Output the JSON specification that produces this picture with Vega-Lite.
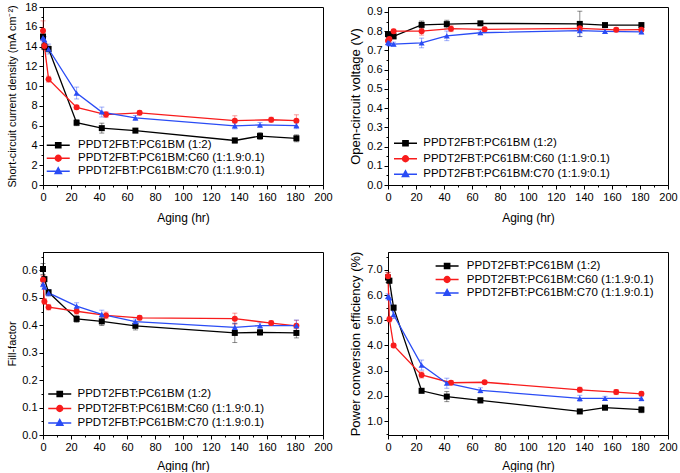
{
  "$schema": "https://vega.github.io/schema/vega-lite/v6.json",
  "padding": {"left": 5, "top": 0, "right": 0, "bottom": 0},
  "config": {
    "font": "Liberation Sans",
    "view": {"stroke": "#000000", "strokeWidth": 1},
    "axis": {"domainColor": "#000000", "tickColor": "#000000", "labelColor": "#000000", "titleColor": "#000000", "labelFont": "Liberation Sans", "titleFont": "Liberation Sans", "labelFontSize": 11, "titleFontSize": 12, "titleFontWeight": "normal", "grid": false, "labelPadding": 2, "labelOverlap": false, "labelFlush": false},
    "axisY": {"minExtent": 22, "maxExtent": 22, "titlePadding": 4},
    "axisX": {"titlePadding": 10},
    "legend": {"labelFont": "Liberation Sans", "labelColor": "#000000", "labelLimit": 400, "symbolSize": 16, "labelFontSize": 11.5, "symbolStrokeWidth": 1.5, "padding": 0, "direction": "vertical", "orient": "none"}
  },
  "datasets": {
    "labs": [{"p": "a", "lab": "a)"}, {"p": "b", "lab": "b)"}, {"p": "c", "lab": "c)"}, {"p": "d", "lab": "d)"}],
    "d": [
      {"p":"a","s":"PPDT2FBT:PC61BM (1:2)","t":0,"v":15.0,"e":0.3},
      {"p":"a","s":"PPDT2FBT:PC61BM (1:2)","t":1,"v":14.0,"e":0.3},
      {"p":"a","s":"PPDT2FBT:PC61BM (1:2)","t":4,"v":13.75,"e":0.3},
      {"p":"a","s":"PPDT2FBT:PC61BM (1:2)","t":24,"v":6.3,"e":0.3},
      {"p":"a","s":"PPDT2FBT:PC61BM (1:2)","t":42,"v":5.75,"e":0.5},
      {"p":"a","s":"PPDT2FBT:PC61BM (1:2)","t":66,"v":5.5,"e":0.2},
      {"p":"a","s":"PPDT2FBT:PC61BM (1:2)","t":137,"v":4.5,"e":0.25},
      {"p":"a","s":"PPDT2FBT:PC61BM (1:2)","t":155,"v":4.95,"e":0.35},
      {"p":"a","s":"PPDT2FBT:PC61BM (1:2)","t":181,"v":4.72,"e":0.35},
      {"p":"a","s":"PPDT2FBT:PC61BM:C60 (1:1.9:0.1)","t":0,"v":15.6,"e":1.0},
      {"p":"a","s":"PPDT2FBT:PC61BM:C60 (1:1.9:0.1)","t":1,"v":14.05,"e":0.4},
      {"p":"a","s":"PPDT2FBT:PC61BM:C60 (1:1.9:0.1)","t":4,"v":10.7,"e":0.3},
      {"p":"a","s":"PPDT2FBT:PC61BM:C60 (1:1.9:0.1)","t":24,"v":7.85,"e":0.2},
      {"p":"a","s":"PPDT2FBT:PC61BM:C60 (1:1.9:0.1)","t":45,"v":7.12,"e":0.3},
      {"p":"a","s":"PPDT2FBT:PC61BM:C60 (1:1.9:0.1)","t":69,"v":7.3,"e":0.2},
      {"p":"a","s":"PPDT2FBT:PC61BM:C60 (1:1.9:0.1)","t":137,"v":6.5,"e":0.5},
      {"p":"a","s":"PPDT2FBT:PC61BM:C60 (1:1.9:0.1)","t":163,"v":6.6,"e":0.25},
      {"p":"a","s":"PPDT2FBT:PC61BM:C60 (1:1.9:0.1)","t":181,"v":6.5,"e":0.6},
      {"p":"a","s":"PPDT2FBT:PC61BM:C70 (1:1.9:0.1)","t":0,"v":14.9,"e":0.3},
      {"p":"a","s":"PPDT2FBT:PC61BM:C70 (1:1.9:0.1)","t":1,"v":14.7,"e":0.3},
      {"p":"a","s":"PPDT2FBT:PC61BM:C70 (1:1.9:0.1)","t":4,"v":13.75,"e":0.5},
      {"p":"a","s":"PPDT2FBT:PC61BM:C70 (1:1.9:0.1)","t":24,"v":9.3,"e":0.6},
      {"p":"a","s":"PPDT2FBT:PC61BM:C70 (1:1.9:0.1)","t":42,"v":7.38,"e":0.5},
      {"p":"a","s":"PPDT2FBT:PC61BM:C70 (1:1.9:0.1)","t":66,"v":6.78,"e":0.25},
      {"p":"a","s":"PPDT2FBT:PC61BM:C70 (1:1.9:0.1)","t":137,"v":5.98,"e":0.3},
      {"p":"a","s":"PPDT2FBT:PC61BM:C70 (1:1.9:0.1)","t":155,"v":6.07,"e":0.25},
      {"p":"a","s":"PPDT2FBT:PC61BM:C70 (1:1.9:0.1)","t":181,"v":6.0,"e":0.3},

      {"p":"b","s":"PPDT2FBT:PC61BM (1:2)","t":0,"v":0.785,"e":0.01},
      {"p":"b","s":"PPDT2FBT:PC61BM (1:2)","t":1,"v":0.78,"e":0.01},
      {"p":"b","s":"PPDT2FBT:PC61BM (1:2)","t":4,"v":0.773,"e":0.01},
      {"p":"b","s":"PPDT2FBT:PC61BM (1:2)","t":24,"v":0.833,"e":0.02},
      {"p":"b","s":"PPDT2FBT:PC61BM (1:2)","t":42,"v":0.837,"e":0.02},
      {"p":"b","s":"PPDT2FBT:PC61BM (1:2)","t":66,"v":0.841,"e":0.01},
      {"p":"b","s":"PPDT2FBT:PC61BM (1:2)","t":137,"v":0.838,"e":0.066},
      {"p":"b","s":"PPDT2FBT:PC61BM (1:2)","t":155,"v":0.832,"e":0.01},
      {"p":"b","s":"PPDT2FBT:PC61BM (1:2)","t":181,"v":0.832,"e":0.01},
      {"p":"b","s":"PPDT2FBT:PC61BM:C60 (1:1.9:0.1)","t":0,"v":0.75,"e":0.02},
      {"p":"b","s":"PPDT2FBT:PC61BM:C60 (1:1.9:0.1)","t":1,"v":0.76,"e":0.02},
      {"p":"b","s":"PPDT2FBT:PC61BM:C60 (1:1.9:0.1)","t":4,"v":0.8,"e":0.01},
      {"p":"b","s":"PPDT2FBT:PC61BM:C60 (1:1.9:0.1)","t":24,"v":0.8,"e":0.02},
      {"p":"b","s":"PPDT2FBT:PC61BM:C60 (1:1.9:0.1)","t":45,"v":0.813,"e":0.015},
      {"p":"b","s":"PPDT2FBT:PC61BM:C60 (1:1.9:0.1)","t":69,"v":0.81,"e":0.01},
      {"p":"b","s":"PPDT2FBT:PC61BM:C60 (1:1.9:0.1)","t":137,"v":0.815,"e":0.01},
      {"p":"b","s":"PPDT2FBT:PC61BM:C60 (1:1.9:0.1)","t":163,"v":0.807,"e":0.01},
      {"p":"b","s":"PPDT2FBT:PC61BM:C60 (1:1.9:0.1)","t":181,"v":0.808,"e":0.01},
      {"p":"b","s":"PPDT2FBT:PC61BM:C70 (1:1.9:0.1)","t":0,"v":0.742,"e":0.015},
      {"p":"b","s":"PPDT2FBT:PC61BM:C70 (1:1.9:0.1)","t":1,"v":0.737,"e":0.015},
      {"p":"b","s":"PPDT2FBT:PC61BM:C70 (1:1.9:0.1)","t":4,"v":0.733,"e":0.01},
      {"p":"b","s":"PPDT2FBT:PC61BM:C70 (1:1.9:0.1)","t":24,"v":0.739,"e":0.025},
      {"p":"b","s":"PPDT2FBT:PC61BM:C70 (1:1.9:0.1)","t":42,"v":0.776,"e":0.025},
      {"p":"b","s":"PPDT2FBT:PC61BM:C70 (1:1.9:0.1)","t":66,"v":0.792,"e":0.01},
      {"p":"b","s":"PPDT2FBT:PC61BM:C70 (1:1.9:0.1)","t":137,"v":0.803,"e":0.03},
      {"p":"b","s":"PPDT2FBT:PC61BM:C70 (1:1.9:0.1)","t":155,"v":0.799,"e":0.01},
      {"p":"b","s":"PPDT2FBT:PC61BM:C70 (1:1.9:0.1)","t":181,"v":0.797,"e":0.01},

      {"p":"c","s":"PPDT2FBT:PC61BM (1:2)","t":0,"v":0.605,"e":0.02},
      {"p":"c","s":"PPDT2FBT:PC61BM (1:2)","t":1,"v":0.568,"e":0.01},
      {"p":"c","s":"PPDT2FBT:PC61BM (1:2)","t":4,"v":0.52,"e":0.01},
      {"p":"c","s":"PPDT2FBT:PC61BM (1:2)","t":24,"v":0.423,"e":0.012},
      {"p":"c","s":"PPDT2FBT:PC61BM (1:2)","t":42,"v":0.414,"e":0.015},
      {"p":"c","s":"PPDT2FBT:PC61BM (1:2)","t":66,"v":0.398,"e":0.015},
      {"p":"c","s":"PPDT2FBT:PC61BM (1:2)","t":137,"v":0.372,"e":0.035},
      {"p":"c","s":"PPDT2FBT:PC61BM (1:2)","t":155,"v":0.374,"e":0.01},
      {"p":"c","s":"PPDT2FBT:PC61BM (1:2)","t":181,"v":0.372,"e":0.018},
      {"p":"c","s":"PPDT2FBT:PC61BM:C60 (1:1.9:0.1)","t":0,"v":0.566,"e":0.015},
      {"p":"c","s":"PPDT2FBT:PC61BM:C60 (1:1.9:0.1)","t":1,"v":0.487,"e":0.01},
      {"p":"c","s":"PPDT2FBT:PC61BM:C60 (1:1.9:0.1)","t":4,"v":0.466,"e":0.01},
      {"p":"c","s":"PPDT2FBT:PC61BM:C60 (1:1.9:0.1)","t":24,"v":0.451,"e":0.01},
      {"p":"c","s":"PPDT2FBT:PC61BM:C60 (1:1.9:0.1)","t":45,"v":0.436,"e":0.012},
      {"p":"c","s":"PPDT2FBT:PC61BM:C60 (1:1.9:0.1)","t":69,"v":0.427,"e":0.008},
      {"p":"c","s":"PPDT2FBT:PC61BM:C60 (1:1.9:0.1)","t":137,"v":0.424,"e":0.02},
      {"p":"c","s":"PPDT2FBT:PC61BM:C60 (1:1.9:0.1)","t":163,"v":0.408,"e":0.008},
      {"p":"c","s":"PPDT2FBT:PC61BM:C60 (1:1.9:0.1)","t":181,"v":0.398,"e":0.02},
      {"p":"c","s":"PPDT2FBT:PC61BM:C70 (1:1.9:0.1)","t":0,"v":0.55,"e":0.01},
      {"p":"c","s":"PPDT2FBT:PC61BM:C70 (1:1.9:0.1)","t":1,"v":0.54,"e":0.01},
      {"p":"c","s":"PPDT2FBT:PC61BM:C70 (1:1.9:0.1)","t":4,"v":0.518,"e":0.012},
      {"p":"c","s":"PPDT2FBT:PC61BM:C70 (1:1.9:0.1)","t":24,"v":0.47,"e":0.012},
      {"p":"c","s":"PPDT2FBT:PC61BM:C70 (1:1.9:0.1)","t":42,"v":0.44,"e":0.015},
      {"p":"c","s":"PPDT2FBT:PC61BM:C70 (1:1.9:0.1)","t":66,"v":0.413,"e":0.01},
      {"p":"c","s":"PPDT2FBT:PC61BM:C70 (1:1.9:0.1)","t":137,"v":0.392,"e":0.015},
      {"p":"c","s":"PPDT2FBT:PC61BM:C70 (1:1.9:0.1)","t":155,"v":0.399,"e":0.01},
      {"p":"c","s":"PPDT2FBT:PC61BM:C70 (1:1.9:0.1)","t":181,"v":0.399,"e":0.02},

      {"p":"d","s":"PPDT2FBT:PC61BM (1:2)","t":0,"v":6.7,"e":0.2},
      {"p":"d","s":"PPDT2FBT:PC61BM (1:2)","t":1,"v":6.57,"e":0.1},
      {"p":"d","s":"PPDT2FBT:PC61BM (1:2)","t":4,"v":5.5,"e":0.1},
      {"p":"d","s":"PPDT2FBT:PC61BM (1:2)","t":24,"v":2.2,"e":0.08},
      {"p":"d","s":"PPDT2FBT:PC61BM (1:2)","t":42,"v":1.97,"e":0.2},
      {"p":"d","s":"PPDT2FBT:PC61BM (1:2)","t":66,"v":1.82,"e":0.1},
      {"p":"d","s":"PPDT2FBT:PC61BM (1:2)","t":137,"v":1.38,"e":0.06},
      {"p":"d","s":"PPDT2FBT:PC61BM (1:2)","t":155,"v":1.53,"e":0.08},
      {"p":"d","s":"PPDT2FBT:PC61BM (1:2)","t":181,"v":1.45,"e":0.12},
      {"p":"d","s":"PPDT2FBT:PC61BM:C60 (1:1.9:0.1)","t":0,"v":6.75,"e":0.15},
      {"p":"d","s":"PPDT2FBT:PC61BM:C60 (1:1.9:0.1)","t":1,"v":5.04,"e":0.1},
      {"p":"d","s":"PPDT2FBT:PC61BM:C60 (1:1.9:0.1)","t":4,"v":4.0,"e":0.08},
      {"p":"d","s":"PPDT2FBT:PC61BM:C60 (1:1.9:0.1)","t":24,"v":2.83,"e":0.12},
      {"p":"d","s":"PPDT2FBT:PC61BM:C60 (1:1.9:0.1)","t":45,"v":2.52,"e":0.08},
      {"p":"d","s":"PPDT2FBT:PC61BM:C60 (1:1.9:0.1)","t":69,"v":2.54,"e":0.06},
      {"p":"d","s":"PPDT2FBT:PC61BM:C60 (1:1.9:0.1)","t":137,"v":2.24,"e":0.1},
      {"p":"d","s":"PPDT2FBT:PC61BM:C60 (1:1.9:0.1)","t":163,"v":2.15,"e":0.1},
      {"p":"d","s":"PPDT2FBT:PC61BM:C60 (1:1.9:0.1)","t":181,"v":2.08,"e":0.08},
      {"p":"d","s":"PPDT2FBT:PC61BM:C70 (1:1.9:0.1)","t":0,"v":5.95,"e":0.1},
      {"p":"d","s":"PPDT2FBT:PC61BM:C70 (1:1.9:0.1)","t":1,"v":5.9,"e":0.1},
      {"p":"d","s":"PPDT2FBT:PC61BM:C70 (1:1.9:0.1)","t":4,"v":5.22,"e":0.15},
      {"p":"d","s":"PPDT2FBT:PC61BM:C70 (1:1.9:0.1)","t":24,"v":3.22,"e":0.2},
      {"p":"d","s":"PPDT2FBT:PC61BM:C70 (1:1.9:0.1)","t":42,"v":2.5,"e":0.2},
      {"p":"d","s":"PPDT2FBT:PC61BM:C70 (1:1.9:0.1)","t":66,"v":2.22,"e":0.1},
      {"p":"d","s":"PPDT2FBT:PC61BM:C70 (1:1.9:0.1)","t":137,"v":1.9,"e":0.12},
      {"p":"d","s":"PPDT2FBT:PC61BM:C70 (1:1.9:0.1)","t":155,"v":1.9,"e":0.08},
      {"p":"d","s":"PPDT2FBT:PC61BM:C70 (1:1.9:0.1)","t":181,"v":1.9,"e":0.1}
    ]
  },
  "spacing": 26,
  "resolve": {"scale": {"color": "independent", "shape": "independent"}, "legend": {"color": "independent", "shape": "independent"}},
  "vconcat": [
    {
      "spacing": 15,
      "resolve": {"scale": {"color": "independent", "shape": "independent"}, "legend": {"color": "independent", "shape": "independent"}},
      "hconcat": [
        {
          "width": 280, "height": 178,
          "resolve": {"scale": {"color": "independent", "shape": "independent"}, "legend": {"color": "independent", "shape": "independent"}},
          "encoding": {
            "x": {"field": "t", "type": "quantitative", "scale": {"domain": [0, 200], "nice": false, "zero": false},
              "axis": {"title": "Aging (hr)", "values": [0,10,20,30,40,50,60,70,80,90,100,110,120,130,140,150,160,170,180,190,200], "labelExpr": "datum.value % 20 == 0 ? datum.label : ''", "tickSize": {"condition": {"test": "datum.value % 20 != 0", "value": 2}, "value": 4}}},
            "y": {"field": "v", "type": "quantitative", "scale": {"domain": [0, 18], "nice": false, "zero": false},
              "axis": {"title": "Short-circuit current density (mA cm⁻²)", "titleFontSize": 10.8, "values": [0,1,2,3,4,5,6,7,8,9,10,11,12,13,14,15,16,17,18], "labelExpr": "datum.value % 2 == 0 ? datum.label : ''", "tickSize": {"condition": {"test": "datum.value % 2 != 0", "value": 2}, "value": 4}}}
          },
          "layer": [
            {"data": {"name": "labs"}, "transform": [{"filter": "datum.p == 'a'"}], "mark": {"type": "text", "fontSize": 15, "fontWeight": "bold", "font": "Liberation Sans", "color": "#000000"},
              "encoding": {"x": {"datum": 188, "type": "quantitative"}, "y": {"datum": 1.5, "type": "quantitative"}, "text": {"field": "lab", "type": "nominal"}}},
            {"data": {"name": "d"}, "transform": [{"filter": "datum.p == 'a'"}], "mark": {"type": "errorbar", "ticks": {"size": 5}, "opacity": 0.45, "thickness": 1}, "encoding": {"yError": {"field": "e"}, "color": {"field": "s", "type": "nominal", "scale": {"domain": ["PPDT2FBT:PC61BM (1:2)", "PPDT2FBT:PC61BM:C60 (1:1.9:0.1)", "PPDT2FBT:PC61BM:C70 (1:1.9:0.1)"], "range": ["#000000", "#f81c1c", "#2a4cf5"]}, "legend": null}}},
            {"data": {"name": "d"}, "transform": [{"filter": "datum.p == 'a'"}], "mark": {"type": "line", "strokeWidth": 1.3}, "encoding": {"color": {"field": "s", "type": "nominal",
              "scale": {"domain": ["PPDT2FBT:PC61BM (1:2)", "PPDT2FBT:PC61BM:C60 (1:1.9:0.1)", "PPDT2FBT:PC61BM:C70 (1:1.9:0.1)"], "range": ["#000000", "#f81c1c", "#2a4cf5"]},
              "legend": {"title": null, "legendX": 9.5, "legendY": 132.5, "rowPadding": 0, "labelOffset": 14,
                "encode": {"symbols": {"update": {
                  "size": {"value": 16},
                  "shape": {"signal": "indexof(datum.value,'C60')>=0 ? 'M-5.75,0H5.75M1.45,0A1.45,1.45,0,1,1,-1.45,0A1.45,1.45,0,1,1,1.45,0Z' : indexof(datum.value,'C70')>=0 ? 'M-5.75,0H5.75M0,-1.7L1.55,1.1H-1.55Z' : 'M-5.75,0H5.75M-1.3,-1.3H1.3V1.3H-1.3Z'"},
                  "fill": {"signal": "indexof(datum.value,'C60')>=0 ? '#f81c1c' : indexof(datum.value,'C70')>=0 ? '#2a4cf5' : '#000000'"},
                  "stroke": {"signal": "indexof(datum.value,'C60')>=0 ? '#f81c1c' : indexof(datum.value,'C70')>=0 ? '#2a4cf5' : '#000000'"},
                  "opacity": {"value": 1}}}}}}}},
            {"data": {"name": "d"}, "transform": [{"filter": "datum.p == 'a'"}], "mark": {"type": "point", "filled": true, "size": 36, "opacity": 1}, "encoding": {"color": {"field": "s", "type": "nominal", "scale": {"domain": ["PPDT2FBT:PC61BM (1:2)", "PPDT2FBT:PC61BM:C60 (1:1.9:0.1)", "PPDT2FBT:PC61BM:C70 (1:1.9:0.1)"], "range": ["#000000", "#f81c1c", "#2a4cf5"]}, "legend": null},
              "shape": {"field": "s", "type": "nominal", "scale": {"domain": ["PPDT2FBT:PC61BM (1:2)", "PPDT2FBT:PC61BM:C60 (1:1.9:0.1)", "PPDT2FBT:PC61BM:C70 (1:1.9:0.1)"], "range": ["square", "circle", "triangle-up"]}, "legend": null}}}
          ]
        },
        {
          "width": 280, "height": 178,
          "resolve": {"scale": {"color": "independent", "shape": "independent"}, "legend": {"color": "independent", "shape": "independent"}},
          "encoding": {
            "x": {"field": "t", "type": "quantitative", "scale": {"domain": [0, 200], "nice": false, "zero": false},
              "axis": {"title": "Aging (hr)", "values": [0,10,20,30,40,50,60,70,80,90,100,110,120,130,140,150,160,170,180,190,200], "labelExpr": "datum.value % 20 == 0 ? datum.label : ''", "tickSize": {"condition": {"test": "datum.value % 20 != 0", "value": 2}, "value": 4}}},
            "y": {"field": "v", "type": "quantitative", "scale": {"domain": [0, 0.926], "nice": false, "zero": false},
              "axis": {"title": "Open-circuit voltage (V)", "titleFontSize": 13, "values": [0,0.05,0.1,0.15,0.2,0.25,0.3,0.35,0.4,0.45,0.5,0.55,0.6,0.65,0.7,0.75,0.8,0.85,0.9], "labelExpr": "abs(datum.value*10 - round(datum.value*10)) < 0.001 ? format(datum.value, '.1f') : ''", "tickSize": {"condition": {"test": "abs(datum.value*10 - round(datum.value*10)) > 0.001", "value": 2}, "value": 4}}}
          },
          "layer": [
            {"data": {"name": "labs"}, "transform": [{"filter": "datum.p == 'b'"}], "mark": {"type": "text", "fontSize": 15, "fontWeight": "bold", "font": "Liberation Sans", "color": "#000000"},
              "encoding": {"x": {"datum": 190, "type": "quantitative"}, "y": {"datum": 0.036, "type": "quantitative"}, "text": {"field": "lab", "type": "nominal"}}},
            {"data": {"name": "d"}, "transform": [{"filter": "datum.p == 'b'"}], "mark": {"type": "errorbar", "ticks": {"size": 5}, "opacity": 0.45, "thickness": 1}, "encoding": {"yError": {"field": "e"}, "color": {"field": "s", "type": "nominal", "scale": {"domain": ["PPDT2FBT:PC61BM (1:2)", "PPDT2FBT:PC61BM:C60 (1:1.9:0.1)", "PPDT2FBT:PC61BM:C70 (1:1.9:0.1)"], "range": ["#000000", "#f81c1c", "#2a4cf5"]}, "legend": null}}},
            {"data": {"name": "d"}, "transform": [{"filter": "datum.p == 'b'"}], "mark": {"type": "line", "strokeWidth": 1.3}, "encoding": {"color": {"field": "s", "type": "nominal",
              "scale": {"domain": ["PPDT2FBT:PC61BM (1:2)", "PPDT2FBT:PC61BM:C60 (1:1.9:0.1)", "PPDT2FBT:PC61BM:C70 (1:1.9:0.1)"], "range": ["#000000", "#f81c1c", "#2a4cf5"]},
              "legend": {"title": null, "legendX": 11.75, "legendY": 130.5, "rowPadding": 2.5, "labelOffset": 12,
                "encode": {"symbols": {"update": {
                  "size": {"value": 16},
                  "shape": {"signal": "indexof(datum.value,'C60')>=0 ? 'M-5.75,0H5.75M1.45,0A1.45,1.45,0,1,1,-1.45,0A1.45,1.45,0,1,1,1.45,0Z' : indexof(datum.value,'C70')>=0 ? 'M-5.75,0H5.75M0,-1.7L1.55,1.1H-1.55Z' : 'M-5.75,0H5.75M-1.3,-1.3H1.3V1.3H-1.3Z'"},
                  "fill": {"signal": "indexof(datum.value,'C60')>=0 ? '#f81c1c' : indexof(datum.value,'C70')>=0 ? '#2a4cf5' : '#000000'"},
                  "stroke": {"signal": "indexof(datum.value,'C60')>=0 ? '#f81c1c' : indexof(datum.value,'C70')>=0 ? '#2a4cf5' : '#000000'"},
                  "opacity": {"value": 1}}}}}}}},
            {"data": {"name": "d"}, "transform": [{"filter": "datum.p == 'b'"}], "mark": {"type": "point", "filled": true, "size": 36, "opacity": 1}, "encoding": {"color": {"field": "s", "type": "nominal", "scale": {"domain": ["PPDT2FBT:PC61BM (1:2)", "PPDT2FBT:PC61BM:C60 (1:1.9:0.1)", "PPDT2FBT:PC61BM:C70 (1:1.9:0.1)"], "range": ["#000000", "#f81c1c", "#2a4cf5"]}, "legend": null},
              "shape": {"field": "s", "type": "nominal", "scale": {"domain": ["PPDT2FBT:PC61BM (1:2)", "PPDT2FBT:PC61BM:C60 (1:1.9:0.1)", "PPDT2FBT:PC61BM:C70 (1:1.9:0.1)"], "range": ["square", "circle", "triangle-up"]}, "legend": null}}}
          ]
        }
      ]
    },
    {
      "spacing": 15,
      "resolve": {"scale": {"color": "independent", "shape": "independent"}, "legend": {"color": "independent", "shape": "independent"}},
      "hconcat": [
        {
          "width": 280, "height": 183,
          "resolve": {"scale": {"color": "independent", "shape": "independent"}, "legend": {"color": "independent", "shape": "independent"}},
          "encoding": {
            "x": {"field": "t", "type": "quantitative", "scale": {"domain": [0, 200], "nice": false, "zero": false},
              "axis": {"title": "Aging (hr)", "titlePadding": 8.5, "values": [0,10,20,30,40,50,60,70,80,90,100,110,120,130,140,150,160,170,180,190,200], "labelExpr": "datum.value % 20 == 0 ? datum.label : ''", "tickSize": {"condition": {"test": "datum.value % 20 != 0", "value": 2}, "value": 4}}},
            "y": {"field": "v", "type": "quantitative", "scale": {"domain": [0, 0.667], "nice": false, "zero": false},
              "axis": {"title": "Fill-factor", "titleFontSize": 11, "values": [0,0.05,0.1,0.15,0.2,0.25,0.3,0.35,0.4,0.45,0.5,0.55,0.6,0.65], "labelExpr": "abs(datum.value*10 - round(datum.value*10)) < 0.001 ? format(datum.value, '.1f') : ''", "tickSize": {"condition": {"test": "abs(datum.value*10 - round(datum.value*10)) > 0.001", "value": 2}, "value": 4}}}
          },
          "layer": [
            {"data": {"name": "labs"}, "transform": [{"filter": "datum.p == 'c'"}], "mark": {"type": "text", "fontSize": 15, "fontWeight": "bold", "font": "Liberation Sans", "color": "#000000"},
              "encoding": {"x": {"datum": 188, "type": "quantitative"}, "y": {"datum": 0.055, "type": "quantitative"}, "text": {"field": "lab", "type": "nominal"}}},
            {"data": {"name": "d"}, "transform": [{"filter": "datum.p == 'c'"}], "mark": {"type": "errorbar", "ticks": {"size": 5}, "opacity": 0.45, "thickness": 1}, "encoding": {"yError": {"field": "e"}, "color": {"field": "s", "type": "nominal", "scale": {"domain": ["PPDT2FBT:PC61BM (1:2)", "PPDT2FBT:PC61BM:C60 (1:1.9:0.1)", "PPDT2FBT:PC61BM:C70 (1:1.9:0.1)"], "range": ["#000000", "#f81c1c", "#2a4cf5"]}, "legend": null}}},
            {"data": {"name": "d"}, "transform": [{"filter": "datum.p == 'c'"}], "mark": {"type": "line", "strokeWidth": 1.3}, "encoding": {"color": {"field": "s", "type": "nominal",
              "scale": {"domain": ["PPDT2FBT:PC61BM (1:2)", "PPDT2FBT:PC61BM:C60 (1:1.9:0.1)", "PPDT2FBT:PC61BM:C70 (1:1.9:0.1)"], "range": ["#000000", "#f81c1c", "#2a4cf5"]},
              "legend": {"title": null, "legendX": 11, "legendY": 136.25, "rowPadding": 1.5, "labelOffset": 12,
                "encode": {"symbols": {"update": {
                  "size": {"value": 16},
                  "shape": {"signal": "indexof(datum.value,'C60')>=0 ? 'M-5.75,0H5.75M1.45,0A1.45,1.45,0,1,1,-1.45,0A1.45,1.45,0,1,1,1.45,0Z' : indexof(datum.value,'C70')>=0 ? 'M-5.75,0H5.75M0,-1.7L1.55,1.1H-1.55Z' : 'M-5.75,0H5.75M-1.3,-1.3H1.3V1.3H-1.3Z'"},
                  "fill": {"signal": "indexof(datum.value,'C60')>=0 ? '#f81c1c' : indexof(datum.value,'C70')>=0 ? '#2a4cf5' : '#000000'"},
                  "stroke": {"signal": "indexof(datum.value,'C60')>=0 ? '#f81c1c' : indexof(datum.value,'C70')>=0 ? '#2a4cf5' : '#000000'"},
                  "opacity": {"value": 1}}}}}}}},
            {"data": {"name": "d"}, "transform": [{"filter": "datum.p == 'c'"}], "mark": {"type": "point", "filled": true, "size": 36, "opacity": 1}, "encoding": {"color": {"field": "s", "type": "nominal", "scale": {"domain": ["PPDT2FBT:PC61BM (1:2)", "PPDT2FBT:PC61BM:C60 (1:1.9:0.1)", "PPDT2FBT:PC61BM:C70 (1:1.9:0.1)"], "range": ["#000000", "#f81c1c", "#2a4cf5"]}, "legend": null},
              "shape": {"field": "s", "type": "nominal", "scale": {"domain": ["PPDT2FBT:PC61BM (1:2)", "PPDT2FBT:PC61BM:C60 (1:1.9:0.1)", "PPDT2FBT:PC61BM:C70 (1:1.9:0.1)"], "range": ["square", "circle", "triangle-up"]}, "legend": null}}}
          ]
        },
        {
          "width": 280, "height": 183,
          "resolve": {"scale": {"color": "independent", "shape": "independent"}, "legend": {"color": "independent", "shape": "independent"}},
          "encoding": {
            "x": {"field": "t", "type": "quantitative", "scale": {"domain": [0, 200], "nice": false, "zero": false},
              "axis": {"title": "Aging (hr)", "titlePadding": 8.5, "values": [0,10,20,30,40,50,60,70,80,90,100,110,120,130,140,150,160,170,180,190,200], "labelExpr": "datum.value % 20 == 0 ? datum.label : ''", "tickSize": {"condition": {"test": "datum.value % 20 != 0", "value": 2}, "value": 4}}},
            "y": {"field": "v", "type": "quantitative", "scale": {"domain": [0.445, 7.71], "nice": false, "zero": false},
              "axis": {"title": "Power conversion efficiency (%)", "titleFontSize": 13, "values": [0.5,1,1.5,2,2.5,3,3.5,4,4.5,5,5.5,6,6.5,7,7.5], "labelExpr": "abs(datum.value - round(datum.value)) < 0.001 ? format(datum.value, '.1f') : ''", "tickSize": {"condition": {"test": "abs(datum.value - round(datum.value)) > 0.001", "value": 2}, "value": 4}}}
          },
          "layer": [
            {"data": {"name": "labs"}, "transform": [{"filter": "datum.p == 'd'"}], "mark": {"type": "text", "fontSize": 15, "fontWeight": "bold", "font": "Liberation Sans", "color": "#000000"},
              "encoding": {"x": {"datum": 190, "type": "quantitative"}, "y": {"datum": 1.0, "type": "quantitative"}, "text": {"field": "lab", "type": "nominal"}}},
            {"data": {"name": "d"}, "transform": [{"filter": "datum.p == 'd'"}], "mark": {"type": "errorbar", "ticks": {"size": 5}, "opacity": 0.45, "thickness": 1}, "encoding": {"yError": {"field": "e"}, "color": {"field": "s", "type": "nominal", "scale": {"domain": ["PPDT2FBT:PC61BM (1:2)", "PPDT2FBT:PC61BM:C60 (1:1.9:0.1)", "PPDT2FBT:PC61BM:C70 (1:1.9:0.1)"], "range": ["#000000", "#f81c1c", "#2a4cf5"]}, "legend": null}}},
            {"data": {"name": "d"}, "transform": [{"filter": "datum.p == 'd'"}], "mark": {"type": "line", "strokeWidth": 1.3}, "encoding": {"color": {"field": "s", "type": "nominal",
              "scale": {"domain": ["PPDT2FBT:PC61BM (1:2)", "PPDT2FBT:PC61BM:C60 (1:1.9:0.1)", "PPDT2FBT:PC61BM:C70 (1:1.9:0.1)"], "range": ["#000000", "#f81c1c", "#2a4cf5"]},
              "legend": {"title": null, "legendX": 53.35, "legendY": 8.25, "rowPadding": 0.5, "labelOffset": 14,
                "encode": {"symbols": {"update": {
                  "size": {"value": 16},
                  "shape": {"signal": "indexof(datum.value,'C60')>=0 ? 'M-5.75,0H5.75M1.45,0A1.45,1.45,0,1,1,-1.45,0A1.45,1.45,0,1,1,1.45,0Z' : indexof(datum.value,'C70')>=0 ? 'M-5.75,0H5.75M0,-1.7L1.55,1.1H-1.55Z' : 'M-5.75,0H5.75M-1.3,-1.3H1.3V1.3H-1.3Z'"},
                  "fill": {"signal": "indexof(datum.value,'C60')>=0 ? '#f81c1c' : indexof(datum.value,'C70')>=0 ? '#2a4cf5' : '#000000'"},
                  "stroke": {"signal": "indexof(datum.value,'C60')>=0 ? '#f81c1c' : indexof(datum.value,'C70')>=0 ? '#2a4cf5' : '#000000'"},
                  "opacity": {"value": 1}}}}}}}},
            {"data": {"name": "d"}, "transform": [{"filter": "datum.p == 'd'"}], "mark": {"type": "point", "filled": true, "size": 36, "opacity": 1}, "encoding": {"color": {"field": "s", "type": "nominal", "scale": {"domain": ["PPDT2FBT:PC61BM (1:2)", "PPDT2FBT:PC61BM:C60 (1:1.9:0.1)", "PPDT2FBT:PC61BM:C70 (1:1.9:0.1)"], "range": ["#000000", "#f81c1c", "#2a4cf5"]}, "legend": null},
              "shape": {"field": "s", "type": "nominal", "scale": {"domain": ["PPDT2FBT:PC61BM (1:2)", "PPDT2FBT:PC61BM:C60 (1:1.9:0.1)", "PPDT2FBT:PC61BM:C70 (1:1.9:0.1)"], "range": ["square", "circle", "triangle-up"]}, "legend": null}}}
          ]
        }
      ]
    }
  ]
}
